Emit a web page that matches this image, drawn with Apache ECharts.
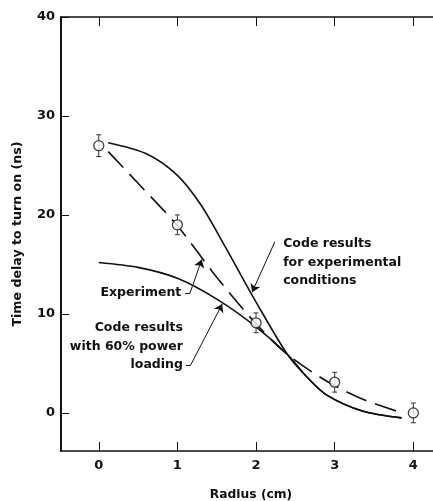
<!DOCTYPE html>
<html>
<head>
<meta charset="utf-8">
<script src="https://cdn.jsdelivr.net/npm/echarts@6/dist/echarts.min.js"></script>
<style>
  html, body { margin: 0; padding: 0; background: #fff; }
  #chart { width: 433px; height: 501px; }
</style>
</head>
<body>
<div id="chart"></div>
<script>
// Measured turn-on delay versus radius, with error bars
const radius = [0, 1, 2, 3, 4];
const delayMeasured = [27, 19, 9.1, 3.1, 0];
const delayError = [1.1, 1, 1, 1, 1];

// Curve drawn through the measurements (dashed)
const experimentR = [0.12, 0.5, 1.0, 1.5, 2.0, 2.4, 2.9, 3.35, 3.82];
const experimentT = [26.4, 23.2, 18.9, 13.7, 9.0, 5.9, 3.2, 1.4, 0.1];

// Code results for the experimental conditions
const codeFullR = [0.12, 0.6, 1.0, 1.3, 1.6, 2.0, 2.4, 2.65, 2.9, 3.35, 3.85];
const codeFullT = [27.3, 26.2, 24.0, 21.0, 16.9, 11.2, 5.9, 3.6, 1.8, 0.2, -0.5];

// Code results with 60% power loading
const code60R = [0.0, 0.5, 1.0, 1.5, 2.0, 2.4, 2.65, 2.9, 3.35, 3.85];
const code60T = [15.2, 14.7, 13.6, 11.5, 8.7, 5.9, 3.6, 1.8, 0.2, -0.5];

// Axis ticks
const xTicks = [0, 1, 2, 3, 4];
const yTicks = [0, 10, 20, 30, 40];

// Annotation text, anchored in data units
const noteFull = { text: 'Code results\nfor experimental\nconditions', at: [2.345, 18.0] };
const noteExp = { text: 'Experiment', at: [1.05, 12.1] };
const note60 = { text: 'Code results\nwith 60% power\nloading', at: [1.07, 9.52] };

// Leader lines from the notes to the curves: a short tail, then an arrow
const tailSegments = [
  [[1.10, 12.1], [1.16, 12.1]],
  [[1.11, 4.85], [1.17, 4.85]]
];
const arrowSegments = [
  [[1.16, 12.1], [1.31, 15.5]],
  [[1.17, 4.85], [1.57, 11.0]],
  [[2.24, 17.3], [1.95, 12.2]]
];

const pair = (xs, ys) => xs.map((x, i) => [x, ys[i]]);

const ink = '#111';
const font = 'DejaVu Sans';

const chart = echarts.init(document.getElementById('chart'), null, { renderer: 'canvas' });

const xRange = { min: -0.48, max: 4.25 };
const yRange = { min: -3.85, max: 40 };

chart.setOption({
  animation: false,
  backgroundColor: '#fff',
  grid: { left: 61, right: 0, top: 17, bottom: 50, containLabel: false, outerBoundsMode: 'none' },
  xAxis: [
    {
      type: 'value', position: 'bottom', ...xRange,
      name: 'Radius (cm)', nameLocation: 'middle', nameGap: 38,
      nameTextStyle: { fontFamily: font, fontWeight: 'bold', fontSize: 12.3, color: ink, padding: [0, 0, 0, 8] },
      axisLine: { onZero: false, lineStyle: { color: ink, width: 1.5 } },
      axisTick: { inside: true, length: 9, customValues: xTicks, lineStyle: { color: ink, width: 1 } },
      axisLabel: { customValues: xTicks, margin: 8, fontFamily: font, fontWeight: 'bold', fontSize: 13, color: ink },
      splitLine: { show: false }
    },
    {
      type: 'value', position: 'top', ...xRange,
      axisLine: { onZero: false, lineStyle: { color: ink, width: 1.5 } },
      axisTick: { inside: true, length: 9, customValues: xTicks, lineStyle: { color: ink, width: 1 } },
      axisLabel: { show: false },
      splitLine: { show: false }
    }
  ],
  yAxis: {
    type: 'value', ...yRange,
    name: 'Time delay to turn on (ns)', nameLocation: 'middle', nameGap: 37,
    nameTextStyle: { fontFamily: font, fontWeight: 'bold', fontSize: 12.6, color: ink },
    axisLine: { show: true, onZero: false, lineStyle: { color: ink, width: 2 } },
    axisTick: { inside: true, length: 8, customValues: yTicks, lineStyle: { color: ink, width: 1 } },
    axisLabel: { customValues: yTicks, margin: 6, fontFamily: font, fontWeight: 'bold', fontSize: 13, color: ink },
    splitLine: { show: false }
  },
  series: [
    {
      type: 'line', data: pair(codeFullR, codeFullT), smooth: 0.3, showSymbol: false,
      lineStyle: { color: ink, width: 1.6 }, z: 3
    },
    {
      type: 'line', data: pair(code60R, code60T), smooth: 0.3, showSymbol: false,
      lineStyle: { color: ink, width: 1.6 }, z: 3
    },
    {
      type: 'line', data: pair(experimentR, experimentT), smooth: 0.3, showSymbol: false,
      lineStyle: { color: ink, width: 1.6, type: [22, 9] }, z: 3
    },
    {
      type: 'custom',
      data: radius.map((r, i) => [r, delayMeasured[i], delayError[i]]),
      encode: { x: 0, y: 1 },
      renderItem(params, api) {
        const x = api.value(0), y = api.value(1), e = api.value(2);
        const top = api.coord([x, y + e]);
        const bot = api.coord([x, y - e]);
        const w = 2.5;
        const st = { stroke: '#333', lineWidth: 1 };
        return {
          type: 'group',
          children: [
            { type: 'line', shape: { x1: top[0], y1: top[1], x2: bot[0], y2: bot[1] }, style: st },
            { type: 'line', shape: { x1: top[0] - w, y1: top[1], x2: top[0] + w, y2: top[1] }, style: st },
            { type: 'line', shape: { x1: bot[0] - w, y1: bot[1], x2: bot[0] + w, y2: bot[1] }, style: st }
          ]
        };
      },
      z: 4
    },
    {
      type: 'scatter',
      data: pair(radius, delayMeasured),
      symbol: 'circle', symbolSize: 10,
      itemStyle: { color: '#fff', borderColor: ink, borderWidth: 1.3 },
      z: 5
    },
    {
      type: 'lines', coordinateSystem: 'cartesian2d',
      symbol: ['none', 'none'],
      lineStyle: { color: ink, width: 1, opacity: 1 },
      data: tailSegments.map(c => ({ coords: c })),
      z: 6
    },
    {
      type: 'lines', coordinateSystem: 'cartesian2d',
      symbol: ['none', 'arrow'], symbolSize: [5, 8],
      lineStyle: { color: ink, width: 1, opacity: 1 },
      data: arrowSegments.map(c => ({ coords: c })),
      z: 6
    }
  ]
});

// Place the notes from their data anchors
function noteGraphic(note, align, vAlign) {
  const p = chart.convertToPixel({ gridIndex: 0 }, note.at);
  return {
    type: 'text', x: p[0], y: p[1],
    style: {
      text: note.text, align: align, verticalAlign: vAlign,
      fontFamily: font, fontWeight: 'bold', fontSize: 12.5, lineHeight: 18.5, fill: ink
    }
  };
}

chart.setOption({
  graphic: [
    noteGraphic(noteFull, 'left', 'top'),
    noteGraphic(noteExp, 'right', 'middle'),
    noteGraphic(note60, 'right', 'top')
  ]
});
</script>
</body>
</html>
